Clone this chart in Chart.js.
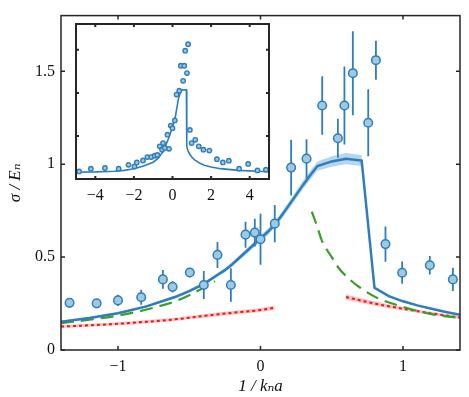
<!DOCTYPE html>
<html>
<head>
<meta charset="utf-8">
<script src="https://cdn.jsdelivr.net/npm/chart.js@4/dist/chart.umd.min.js"></script>
<style>
  html, body { margin: 0; padding: 0; background: #fff; }
  #wrap { position: relative; width: 469px; height: 397px; }
  #main { position: absolute; left: 0; top: 0; }
  #inset { position: absolute; left: 60px; top: 14px; }
</style>
</head>
<body>
<div id="wrap">
  <canvas id="main" width="469" height="397"></canvas>
  <canvas id="inset" width="220" height="200"></canvas>
</div>
<script>
// ---- data -----------------------------------------------------------------

// measured points with error bars
const dataX = [-1.34, -1.15, -1.0, -0.837, -0.685, -0.617, -0.496, -0.398, -0.302, -0.208, -0.105, -0.04, 0, 0.1,
  0.215, 0.323, 0.433, 0.543, 0.589, 0.648, 0.756, 0.81, 0.877, 0.994, 1.188, 1.35];
const dataY = [0.254, 0.251, 0.267, 0.284, 0.38, 0.34, 0.417, 0.35, 0.512, 0.35, 0.621, 0.632, 0.596, 0.68,
  0.982, 1.03, 1.316, 1.14, 1.316, 1.49, 1.223, 1.56, 0.57, 0.416, 0.456, 0.38];
const dataErr = [0.025, 0.015, 0.03, 0.04, 0.05, 0.03, 0.025, 0.075, 0.07, 0.09, 0.07, 0.075, 0.137, 0.1,
  0.15, 0.105, 0.158, 0.105, 0.21, 0.226, 0.18, 0.105, 0.095, 0.06, 0.05, 0.063];

// theory (solid blue) with its uncertainty band
const theoryX = [-1.4, -1.2, -1.0, -0.8, -0.6, -0.5, -0.4, -0.3, -0.25, -0.2, -0.15, -0.1, -0.05, 0, 0.05, 0.1,
  0.15, 0.2, 0.25, 0.3, 0.35, 0.4, 0.5, 0.6, 0.71, 0.8, 0.9, 1.0, 1.1, 1.2, 1.3, 1.4];
const theoryY = [0.152, 0.172, 0.198, 0.235, 0.285, 0.317, 0.355, 0.405, 0.43, 0.46, 0.495, 0.53, 0.565, 0.6,
  0.635, 0.675, 0.725, 0.78, 0.835, 0.89, 0.942, 0.99, 1.015, 1.03, 1.02, 0.335, 0.29, 0.262, 0.24, 0.222, 0.205, 0.19];
const theoryErr = [0.005, 0.005, 0.006, 0.006, 0.008, 0.008, 0.01, 0.01, 0.011, 0.012, 0.013, 0.014, 0.015, 0.016,
  0.017, 0.018, 0.019, 0.02, 0.021, 0.022, 0.024, 0.025, 0.028, 0.03, 0.03, 0.008, 0.006, 0.006, 0.005, 0.005,
  0.005, 0.005];

// green dashed curves (two branches)
const greenLX = [-1.4, -1.2, -1.0, -0.8, -0.6, -0.5, -0.4, -0.32];
const greenLY = [0.145, 0.163, 0.185, 0.218, 0.262, 0.295, 0.335, 0.37];
const greenRX = [0.36, 0.4, 0.43, 0.5, 0.55, 0.63, 0.7, 0.82, 0.98, 1.2, 1.4];
const greenRY = [0.745, 0.66, 0.59, 0.5, 0.44, 0.377, 0.335, 0.28, 0.237, 0.193, 0.172];

// red dotted curves (two branches) with bands
const redLX = [-1.4, -1.2, -1.0, -0.8, -0.6, -0.4, -0.2, 0, 0.1];
const redLY = [0.126, 0.133, 0.141, 0.152, 0.165, 0.183, 0.2, 0.215, 0.228];
const redLErr = [0.008, 0.008, 0.008, 0.009, 0.009, 0.01, 0.01, 0.011, 0.011];
const redRX = [0.6, 0.8, 1.0, 1.2, 1.4];
const redRY = [0.285, 0.25, 0.222, 0.197, 0.175];
const redRErr = [0.014, 0.012, 0.01, 0.009, 0.008];

const mainXTicks = [-1, 0, 1];
const mainYTicks = [0, 0.5, 1, 1.5];

// inset
const insetPtX = [-4.84, -4.23, -3.5, -2.79, -2.28, -1.97, -1.85, -1.53, -1.3, -1.1, -0.92, -0.78, -0.66, -0.54,
  -0.49, -0.4, -0.26, -0.18, -0.09, 0, 0.12, 0.21, 0.35, 0.43, 0.55, 0.61, 0.66, 0.75, 0.81, 0.9, 0.99, 1.18, 1.36,
  1.6, 1.91, 2.3, 2.61, 2.92, 3.45, 3.92, 4.4, 4.84];
const insetPtY = [0.176, 0.24, 0.255, 0.24, 0.33, 0.29, 0.385, 0.43, 0.51, 0.51, 0.54, 0.56, 0.76, 0.68,
  0.835, 0.72, 1.03, 0.70, 1.24, 1.18, 1.36, 1.96, 2.05, 2.63, 2.28, 2.63, 2.98, 2.46, 3.13, 1.14, 0.835, 0.91, 0.76,
  0.68, 0.66, 0.46, 0.385, 0.425, 0.24, 0.35, 0.2, 0.215];
const insetCurveX = [-5, -4, -3, -2.5, -2, -1.5, -1, -0.75, -0.5, -0.25, 0, 0.15, 0.3, 0.4, 0.5, 0.72, 0.74, 0.8,
  0.9, 1.0, 1.13, 1.4, 1.65, 2.0, 2.5, 3.4, 5];
const insetCurveY = [0.16, 0.165, 0.18, 0.2, 0.24, 0.3, 0.39, 0.48, 0.63, 0.89, 1.2, 1.45, 1.85, 2.0, 2.07, 2.07,
  0.75, 0.66, 0.57, 0.51, 0.45, 0.37, 0.32, 0.28, 0.24, 0.2, 0.17];
const insetXTicks = [-4, -2, 0, 2, 4];
const insetYTicks = [1, 2, 3];

// ---- helpers ---------------------------------------------------------------

const BLUE = "#2f7dbb";
const BLUE_FILL = "#9ecae1";
const BLUE_BAND = "rgba(120,180,220,0.55)";
const GREEN = "#3a9e2a";
const RED = "#e41a1c";
const RED_BAND = "rgba(245,120,120,0.45)";
const AXIS = "#262626";
const SERIF = '"Liberation Serif", "DejaVu Serif", serif';

Chart.defaults.font.family = SERIF;
Chart.defaults.font.size = 16;
Chart.defaults.color = "#111";

function pts(xs, ys, es, s) {
  return xs.map((x, i) => ({ x, y: ys[i] + (es ? s * es[i] : 0) }));
}

function fmt(v) {
  return String(v).replace("-", "\u2212");
}

// smooth = monotone cubic, otherwise straight segments between points
function curve(data, color, width, dash, order, smooth) {
  const ds = {
    data, showLine: true, borderColor: color, borderWidth: width, borderDash: dash || [],
    pointRadius: 0, fill: false, tension: 0, order,
  };
  if (smooth) ds.cubicInterpolationMode = "monotone";
  return ds;
}

function band(xs, ys, es, color, order, smooth) {
  const mode = smooth ? "monotone" : "default";
  return [
    { data: pts(xs, ys, es, -1), showLine: true, borderWidth: 0, pointRadius: 0, fill: false,
      tension: 0, cubicInterpolationMode: mode, order },
    { data: pts(xs, ys, es, 1), showLine: true, borderWidth: 0, pointRadius: 0, fill: "-1",
      backgroundColor: color, tension: 0, cubicInterpolationMode: mode, order },
  ];
}

// box round the plot area plus inward ticks on all four sides
function frame(lineWidth, tickLen) {
  return {
    id: "frame",
    beforeDraw(chart) {
      const a = chart.chartArea, ctx = chart.ctx;
      ctx.save();
      ctx.fillStyle = "#fff";
      ctx.fillRect(a.left, a.top, a.right - a.left, a.bottom - a.top);
      ctx.restore();
    },
    afterDraw(chart) {
      const a = chart.chartArea, ctx = chart.ctx;
      const xs = chart.scales.x, ys = chart.scales.y;
      ctx.save();
      ctx.strokeStyle = AXIS;
      ctx.lineWidth = lineWidth;
      ctx.beginPath();
      xs.ticks.forEach((t) => {
        const px = xs.getPixelForValue(t.value);
        ctx.moveTo(px, a.bottom); ctx.lineTo(px, a.bottom - tickLen);
        ctx.moveTo(px, a.top); ctx.lineTo(px, a.top + tickLen);
      });
      ys.ticks.forEach((t) => {
        const py = ys.getPixelForValue(t.value);
        ctx.moveTo(a.left, py); ctx.lineTo(a.left + tickLen, py);
        ctx.moveTo(a.right, py); ctx.lineTo(a.right - tickLen, py);
      });
      ctx.stroke();
      ctx.strokeRect(a.left, a.top, a.right - a.left, a.bottom - a.top);
      ctx.restore();
    },
  };
}

// vertical error bars under the measured points
const errorBars = {
  id: "errorBars",
  beforeDatasetDraw(chart, args) {
    if (chart.data.datasets[args.index].label !== "data") return;
    const xs = chart.scales.x, ys = chart.scales.y, ctx = chart.ctx;
    ctx.save();
    ctx.strokeStyle = BLUE;
    ctx.lineWidth = 1.8;
    ctx.beginPath();
    dataX.forEach((x, i) => {
      const px = xs.getPixelForValue(x);
      ctx.moveTo(px, ys.getPixelForValue(dataY[i] - dataErr[i]));
      ctx.lineTo(px, ys.getPixelForValue(dataY[i] + dataErr[i]));
    });
    ctx.stroke();
    ctx.restore();
  },
};

// ---- main chart ------------------------------------------------------------

new Chart(document.getElementById("main"), {
  type: "scatter",
  data: {
    datasets: [
      { label: "data", data: pts(dataX, dataY), pointRadius: 4.3, pointBorderWidth: 1.5,
        pointBackgroundColor: BLUE_FILL, pointBorderColor: BLUE, order: 0 },
      curve(pts(theoryX, theoryY), BLUE, 2.5, null, 1, false),
      curve(pts(greenLX, greenLY), GREEN, 2.2, [13, 7], 2, true),
      curve(pts(greenRX, greenRY), GREEN, 2.2, [13, 7], 2, true),
      curve(pts(redLX, redLY), RED, 2, [3, 3], 3, true),
      curve(pts(redRX, redRY), RED, 2, [3, 3], 3, true),
      ...band(theoryX, theoryY, theoryErr, BLUE_BAND, 5, false),
      ...band(redLX, redLY, redLErr, RED_BAND, 6, true),
      ...band(redRX, redRY, redRErr, RED_BAND, 7, true),
    ],
  },
  options: {
    responsive: false,
    animation: false,
    layout: { padding: { left: 0, right: 9, top: 8, bottom: 0 } },
    plugins: { legend: { display: false }, tooltip: { enabled: false } },
    scales: {
      x: {
        type: "linear", min: -1.4, max: 1.4,
        grid: { display: false, drawTicks: false }, border: { display: false },
        afterBuildTicks: (s) => { s.ticks = mainXTicks.map((value) => ({ value })); },
        afterFit: (s) => { s.height = 47; },
        ticks: { padding: 7, callback: fmt, maxRotation: 0 },
        title: { display: true, text: "1 / k\u2099a", font: { style: "italic", size: 17 }, padding: { top: 0, bottom: 0 } },
      },
      y: {
        type: "linear", min: 0, max: 1.8,
        grid: { display: false, drawTicks: false }, border: { display: false },
        afterBuildTicks: (s) => { s.ticks = mainYTicks.map((value) => ({ value })); },
        afterFit: (s) => { s.width = 61; },
        ticks: { padding: 6, callback: fmt },
        title: { display: true, text: "\u03c3 / E\u2099", font: { style: "italic", size: 17 }, padding: { top: 5, bottom: 0 } },
      },
    },
  },
  plugins: [frame(1.5, 4), errorBars],
});

// ---- inset -------------------------------------------------------------------

new Chart(document.getElementById("inset"), {
  type: "scatter",
  data: {
    datasets: [
      { data: pts(insetPtX, insetPtY), pointRadius: 2.2, pointBorderWidth: 1.4,
        pointBackgroundColor: BLUE_FILL, pointBorderColor: BLUE, order: 0 },
      curve(pts(insetCurveX, insetCurveY), BLUE, 1.6, null, 1, false),
    ],
  },
  options: {
    responsive: false,
    animation: false,
    layout: { padding: { left: 0, right: 11, top: 10, bottom: 0 } },
    plugins: { legend: { display: false }, tooltip: { enabled: false } },
    scales: {
      x: {
        type: "linear", min: -5, max: 5,
        grid: { display: false, drawTicks: false }, border: { display: false },
        afterBuildTicks: (s) => { s.ticks = insetXTicks.map((value) => ({ value })); },
        afterFit: (s) => { s.height = 35; },
        ticks: { padding: 7, callback: fmt, maxRotation: 0 },
      },
      y: {
        type: "linear", min: 0, max: 3.6,
        grid: { display: false, drawTicks: false }, border: { display: false },
        afterBuildTicks: (s) => { s.ticks = insetYTicks.map((value) => ({ value })); },
        afterFit: (s) => { s.width = 16; },
        ticks: { display: false },
      },
    },
  },
  plugins: [frame(2, 3)],
});
</script>
</body>
</html>
